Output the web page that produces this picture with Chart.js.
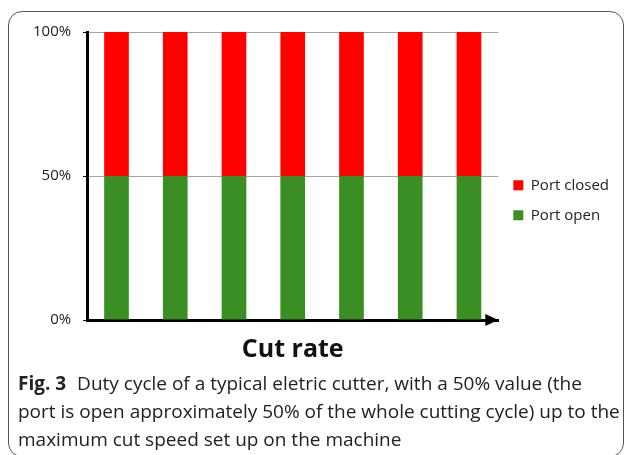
<!DOCTYPE html>
<html>
<head>
<meta charset="utf-8">
<script src="https://cdn.jsdelivr.net/npm/chart.js@4/dist/chart.umd.min.js"></script>
<style>
    body { margin: 0; background: #fff; width: 629px; height: 455px; overflow: hidden; position: relative; }
    #frame { position: absolute; left: 8px; top: 11px; width: 616px; height: 446px; border: 1.5px solid #555; border-radius: 14px; box-sizing: border-box; }
    #chartBox { position: absolute; left: 0; top: 0; width: 629px; height: 370px; }
    #caption { position: absolute; left: 18px; top: 369px; font-family: "Open Sans", sans-serif; font-size: 19px; line-height: 28px; color: #222; white-space: nowrap; }
    #caption b { margin-right: 6px; }
</style>
</head>
<body>
<div id="frame"></div>
<div id="chartBox"><canvas id="dutyChart"></canvas></div>
<div id="caption"><b>Fig. 3</b> Duty cycle of a typical eletric cutter, with a 50% value (the<br>port is open approximately 50% of the whole cutting cycle) up to the<br>maximum cut speed set up on the machine</div>
<script>
const cutRates = ['1', '2', '3', '4', '5', '6', '7'];
const portOpen = [50, 50, 50, 50, 50, 50, 50];
const portClosed = [50, 50, 50, 50, 50, 50, 50];
const yTicks = [0, 50, 100];

// arrow head at the end of the x axis
const axisArrow = {
    id: 'axisArrow',
    afterDraw(chart) {
        const ctx = chart.ctx;
        const right = chart.chartArea.right;
        const y = chart.scales.y.getPixelForValue(0);
        ctx.save();
        ctx.fillStyle = '#000';
        ctx.beginPath();
        ctx.moveTo(right, y);
        ctx.lineTo(right - 13, y - 6);
        ctx.lineTo(right - 13, y + 6);
        ctx.closePath();
        ctx.fill();
        ctx.restore();
    }
};

const ctx = document.getElementById('dutyChart').getContext('2d');
new Chart(ctx, {
    type: 'bar',
    data: {
        labels: cutRates,
        datasets: [{
            label: 'Port open',
            data: portOpen,
            backgroundColor: '#3a8e24',
            borderWidth: 0,
        }, {
            label: 'Port closed',
            data: portClosed,
            backgroundColor: '#ff0000',
            borderWidth: 0,
        }],
    },
    options: {
        responsive: true,
        maintainAspectRatio: false,
        animation: false,
        datasets: { bar: { categoryPercentage: 1, barPercentage: 0.42 } },
        layout: { padding: { left: 21, right: 10, top: 32, bottom: 1 } },
        plugins: {
            tooltip: { enabled: false },
            legend: {
                position: 'right',
                align: 'start',
                reverse: true,
                title: { display: true, text: '', padding: { top: 114, bottom: 0 }, font: { size: 14 } },
                labels: {
                    boxWidth: 10,
                    boxHeight: 10,
                    padding: 15,
                    color: '#222',
                    font: { family: 'Open Sans', size: 15 },
                },
            },
        },
        scales: {
            x: {
                stacked: true,
                grid: { display: false },
                border: { display: true, color: '#000', width: 3 },
                ticks: { display: false },
                title: {
                    display: true,
                    text: 'Cut rate',
                    color: '#111',
                    font: { family: 'Open Sans', size: 25, weight: 'bold' },
                    padding: { top: 7, bottom: 4 },
                },
            },
            y: {
                stacked: true,
                min: 0,
                max: 100,
                afterBuildTicks: (scale) => { scale.ticks = yTicks.map(v => ({ value: v })); },
                grid: {
                    color: (c) => c.tick && c.tick.value === 0 ? 'rgba(0,0,0,0)' : '#a6a6a6',
                    tickColor: '#000',
                    tickLength: 4,
                    lineWidth: 1,
                },
                border: { display: true, color: '#000', width: 3 },
                ticks: {
                    padding: 12,
                    color: '#222',
                    font: { family: 'Open Sans', size: 15 },
                    callback: (v) => v + '%',
                },
            },
        },
    },
    plugins: [axisArrow],
});
</script>
</body>
</html>
